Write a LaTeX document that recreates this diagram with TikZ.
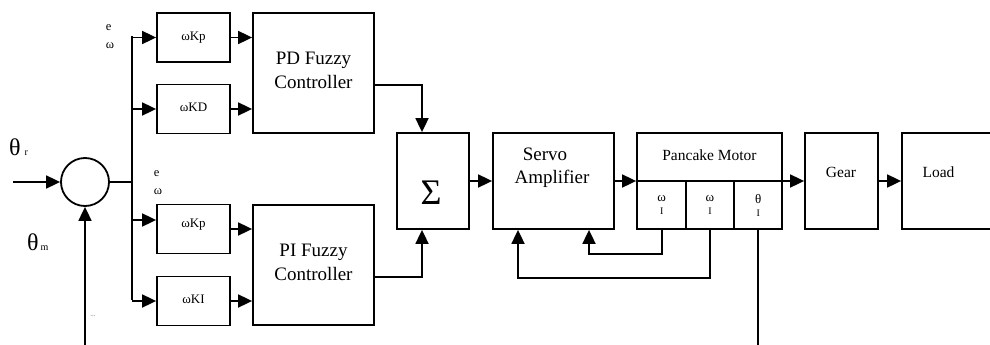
\documentclass[tikz,border=0pt]{standalone}
\usepackage{fontspec}
\setmainfont{Liberation Serif}
\usetikzlibrary{arrows.meta,calc}
\newcommand{\fsz}[1]{\fontsize{#1}{#1}\selectfont}
\tikzset{
  ln/.style={line width=1.8pt},
  arr/.style={line width=1.8pt,-{Triangle[length=14pt,width=13pt]}},
  blk/.style={draw,line width=1.8pt,inner sep=0pt},
  gain/.style={blk,minimum width=73pt,minimum height=49pt,font=\fsz{13}},
  fuzzy/.style={blk,minimum width=121pt,minimum height=120pt,align=center,
    font=\fontsize{19}{24}\selectfont},
  plant/.style={blk,minimum height=96pt},
  cell/.style={blk,minimum width=48.33pt,minimum height=48pt,align=center,
    font=\fontsize{13}{13}\selectfont},
  tag/.style={font=\fontsize{12.5}{18}\selectfont,align=left,inner sep=0pt},
}
\begin{document}
\begin{tikzpicture}[x=1pt,y=-1pt]
  \useasboundingbox (0,0) rectangle (990,345);
  % comparator and inputs
  \node[draw,circle,ln,minimum size=48pt,inner sep=0pt] (cmp) at (85,182) {};
  \coordinate (ref) at (13,182);
  \draw[arr] (ref) -- (cmp);
  \draw[arr] (cmp.south|-0,345) -- (cmp.south);
  \node[anchor=base west,font=\fsz{24},inner sep=0pt] (thr) at (9,155) {θ\hspace{4pt}{\fsz{10}r}};
  \node[anchor=base west,font=\fsz{24},inner sep=0pt] (thm) at (27,250) {θ\hspace{2pt}{\fsz{10}m}};
  \node[font=\fsz{7},text=black!60,inner sep=0pt] (dots) at (93,316) {...};
  % bus
  \coordinate (bus) at (132,182);
  \coordinate (bustop) at (132,36);
  \coordinate (busbot) at (132,300);
  \draw[ln] (cmp.east) -- (bus);
  \draw[ln] (bustop) -- (busbot);
  \node[tag] (e1) at (110,37) {e\\ω};
  \node[tag] (e2) at (158,183) {e\\ω};
  % gains
  \node[gain] (kp1) at (193.5,37.5) {\raisebox{2pt}{ωKp}};
  \node[gain] (kd) at (193.5,109) {\raisebox{3pt}{ωKD}};
  \node[gain] (kp2) at (193.5,229) {\raisebox{11pt}{ωKp}};
  \node[gain] (ki) at (193.5,301) {\raisebox{3pt}{ωKI}};
  \draw[arr] (bus|-kp1) -- (kp1);
  \draw[arr] (bus|-kd) -- (kd);
  \draw[arr] (bus|-0,220) -- (kp2.west|-0,220);
  \draw[arr] (bus|-ki) -- (ki);
  % fuzzy controllers
  \node[fuzzy] (pd) at (313.5,73) {\raisebox{6pt}{PD Fuzzy}\\\raisebox{6pt}{Controller}};
  \node[fuzzy] (pi) at (313.5,265) {\raisebox{6pt}{PI Fuzzy}\\\raisebox{6pt}{Controller}};
  \draw[arr] (kp1) -- (pd.west|-kp1);
  \draw[arr] (kd) -- (pd.west|-kd);
  \draw[arr] (kp2) -- (pi.west|-kp2);
  \draw[arr] (ki) -- (pi.west|-ki);
  % summation
  \node[blk,minimum width=72pt,minimum height=96pt] (sig) at (433,181) {};
  \node[font=\fsz{36},inner sep=0pt] (sigsym) at (431,193) {Σ};
  \draw[arr] (pd.east|-0,85) -| ($(sig.north)+(-11,0)$);
  \draw[arr] (pi.east|-0,277) -| ($(sig.south)+(-11,0)$);
  % servo, motor, gear, load
  \node[plant,minimum width=121pt] (srv) at (553.5,181) {};
  \node[align=center,font=\fontsize{19}{23}\selectfont,inner sep=0pt] (srvlbl) at (552,168)
    {Servo\hspace*{14pt}\\Amplifier};
  \node[plant,minimum width=145pt] (mot) at (709.5,181) {};
  \node[font=\fsz{15.5},inner sep=0pt] (motlbl) at (709.5,155) {Pancake Motor};
  \node[cell] (c1) at (661.67,205) {ω\\{\fsz{10}I}};
  \node[cell] (c2) at (710,205) {ω\\{\fsz{10}I}};
  \node[cell] (c3) at (758.33,205) {θ\\{\fsz{10}I}};
  \node[plant,minimum width=73pt] (gear) at (841.5,181) {};
  \node[font=\fsz{15.5},inner sep=0pt] (gearlbl) at (841,172) {Gear};
  \node[plant,minimum width=100pt] (load) at (952,181) {};
  \node[font=\fsz{15.5},inner sep=0pt] (loadlbl) at (938.5,172) {Load};
  \draw[arr] (sig) -- (srv);
  \draw[arr] (srv) -- (mot);
  \draw[arr] (mot.east) -- (gear.west);
  \draw[arr] (gear) -- (load);
  % feedback
  \draw[arr] (c1.south) -- ++(0,24) -| ($(srv.south)+(35.5,0)$);
  \draw[arr] (c2.south) -- ++(0,48) -| ($(srv.south)+(-35.5,0)$);
  \draw[ln] (c3.south) -- (c3.south|-0,345);
\end{tikzpicture}
\end{document}
